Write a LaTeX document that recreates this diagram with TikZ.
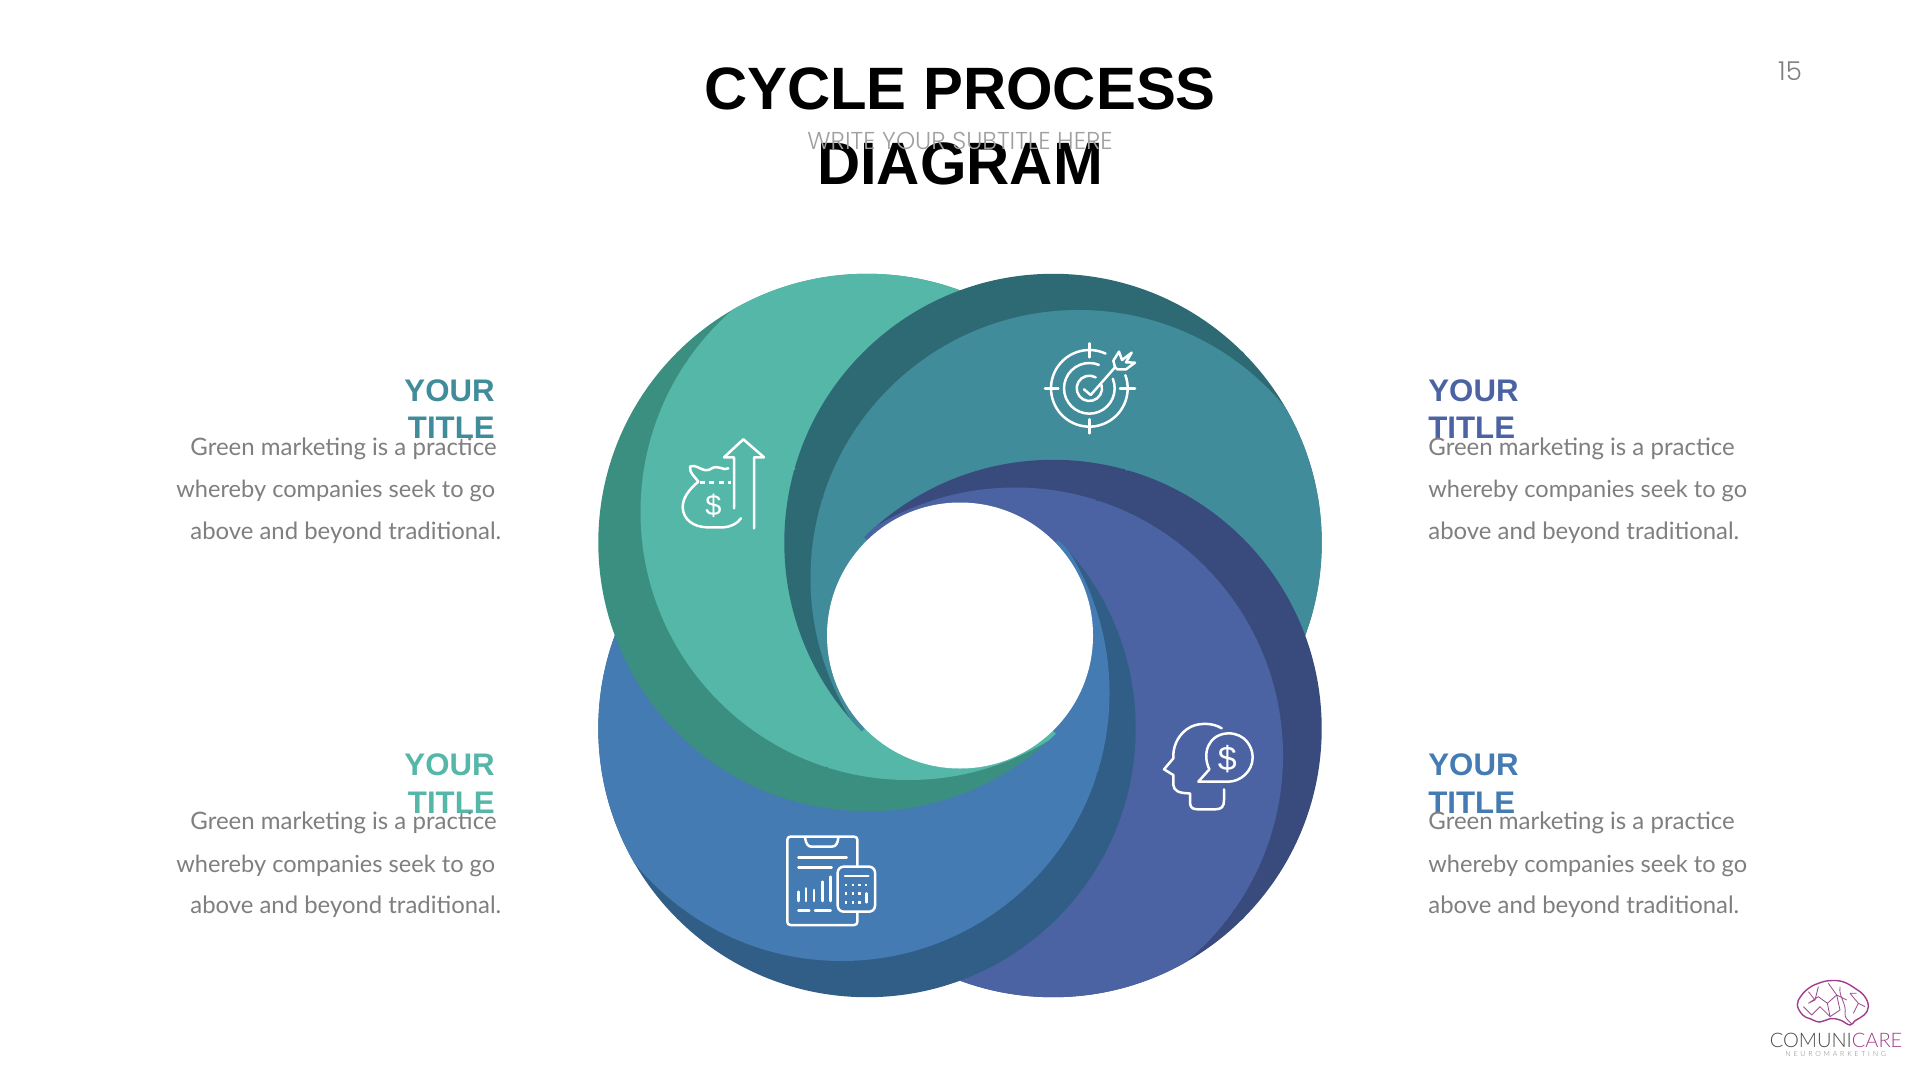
\documentclass[tikz,border=0pt]{standalone}
\usepackage{fontspec}
\setmainfont{Liberation Sans}
\newfontfamily\lato{Lato}
\newfontfamily\thinf{Poppins Light}
\newfontfamily\logof{Lato Light}
\definecolor{gL}{HTML}{55B7A8}\definecolor{gD}{HTML}{3B8F80}
\definecolor{tL}{HTML}{408C9B}\definecolor{tD}{HTML}{2E6A73}
\definecolor{iL}{HTML}{4B63A3}\definecolor{iD}{HTML}{394A7D}
\definecolor{bL}{HTML}{447BB2}\definecolor{bD}{HTML}{315E86}
\definecolor{bodyg}{HTML}{7F7F7F}\definecolor{subg}{HTML}{A0A0A0}
\definecolor{logoM}{HTML}{A23C8C}\definecolor{logoG}{HTML}{4A4A4A}
\newcommand{\OneSeg}[4]{\begin{scope}\fill[#3] #1 circle[radius=268.7];\clip #1 circle[radius=268.7];\fill[#4] #2 circle[radius=268];\end{scope}}
\newcommand{\SegG}{\OneSeg{(-93,93)}{(-51.5,123.5)}{gD}{gL}}
\newcommand{\SegT}{\OneSeg{(93,93)}{(118.5,57.5)}{tD}{tL}}
\newcommand{\SegI}{\OneSeg{(93,-93)}{(55,-120)}{iD}{iL}}
\newcommand{\SegB}{\OneSeg{(-93,-93)}{(-118.5,-57.5)}{bD}{bL}}
\newcommand{\Wedge}[3]{\clip (0,0) -- (#1:800) -- (#2:1100) -- (#3:800) -- cycle;}
% colour bands along a diagonal where two wedges meet
\newcommand{\SeamRay}[9]{\draw[seamline,#2] (#1:130) -- (#1:#3);\draw[seamline,#4] (#1:#3) -- (#1:#5);\draw[seamline,#6] (#1:#5) -- (#1:#7);\draw[seamline,#8] (#1:#7) -- (#1:#9);}
\tikzset{
 seamline/.style={line width=1.5pt,line cap=butt},
 icon/.style={draw=white,line width=1.25pt,line cap=round,line join=round},
 ttl/.style={font=\fontsize{15.6pt}{15.6pt}\selectfont\bfseries,inner sep=0pt},
 bodya/.style={font=\lato\fontsize{12pt}{12pt}\selectfont,text=bodyg,inner sep=0pt,anchor=base west},
 bodyb/.style={font=\lato\fontsize{11.8pt}{11.8pt}\selectfont,text=bodyg,inner sep=0pt,anchor=base west},
 bodyc/.style={font=\lato\fontsize{11.95pt}{11.95pt}\selectfont,text=bodyg,inner sep=0pt,anchor=base west},
 ticon/.style={text=white,inner sep=0pt}
}
\begin{document}
\begin{tikzpicture}[x=0.5pt,y=-0.5pt]
\useasboundingbox (0,0) rectangle (1920,1080);
\fill[white] (0,0) rectangle (1920,1080);
% wheel
\begin{scope}[shift={(960,635.5)},yscale=-1]
\begin{scope}\Wedge{224.9}{270}{315.1}\SegT\SegI\SegB\SegG\end{scope}
\begin{scope}\Wedge{134.9}{180}{225.1}\SegI\SegB\SegG\SegT\end{scope}
\begin{scope}\Wedge{44.9}{90}{135.1}\SegB\SegG\SegT\SegI\end{scope}
\begin{scope}\Wedge{-45.1}{0}{45.1}\SegG\SegT\SegI\SegB\end{scope}
\SeamRay{225}{gL}{186.8}{gD}{234.3}{bL}{388.95}{bD}{400.2}
\SeamRay{135}{tL}{194.2}{tD}{234.3}{gL}{386.8}{gD}{400.2}
\SeamRay{45}{iL}{191.7}{iD}{234.3}{tL}{388.95}{tD}{400.2}
\SeamRay{-45}{bL}{194.2}{bD}{234.3}{iL}{387.7}{iD}{400.2}
\fill[white] (0,0) circle[radius=133];
\end{scope}
% title
\node[font=\fontsize{29.9pt}{29.9pt}\selectfont\bfseries,anchor=base,inner sep=0pt] (title1) at (960,110) {CYCLE PROCESS};
\node[font=\fontsize{29.9pt}{29.9pt}\selectfont\bfseries,anchor=base,inner sep=0pt] (title2) at (960,185) {DIAGRAM};
\node[font=\thinf\fontsize{12.2pt}{12.2pt}\selectfont,text=subg,anchor=base,inner sep=0pt] (subt) at (960,150) {WRITE YOUR SUBTITLE HERE};
\node[font=\thinf\fontsize{13pt}{13pt}\selectfont,text=bodyg,anchor=base,inner sep=0pt] (pnum) at (1790,81) {15};
% text blocks
\node[ttl,text=tL,anchor=base east] (a1) at (495,401) {YOUR};
\node[ttl,text=tL,anchor=base east] (a2) at (495,438.5) {TITLE};
\node[bodya] (a3) at (190,455) {Green marketing is a practice};
\node[bodyb] (a4) at (176,497.5) {whereby companies seek to go};
\node[bodyc] (a5) at (190,539) {above and beyond traditional.};
\node[ttl,text=iL,anchor=base west] (b1) at (1428,401) {YOUR};
\node[ttl,text=iL,anchor=base west] (b2) at (1428,438.5) {TITLE};
\node[bodya] (b3) at (1428,455) {Green marketing is a practice};
\node[bodyb] (b4) at (1428,497.5) {whereby companies seek to go};
\node[bodyc] (b5) at (1428,539) {above and beyond traditional.};
\node[ttl,text=gL,anchor=base east] (c1) at (495,775) {YOUR};
\node[ttl,text=gL,anchor=base east] (c2) at (495,813) {TITLE};
\node[bodya] (c3) at (190,829.7) {Green marketing is a practice};
\node[bodyb] (c4) at (176,872.2) {whereby companies seek to go};
\node[bodyc] (c5) at (190,913.7) {above and beyond traditional.};
\node[ttl,text=bL,anchor=base west] (d1) at (1428,775) {YOUR};
\node[ttl,text=bL,anchor=base west] (d2) at (1428,813) {TITLE};
\node[bodya] (d3) at (1428,829.7) {Green marketing is a practice};
\node[bodyb] (d4) at (1428,872.2) {whereby companies seek to go};
\node[bodyc] (d5) at (1428,913.7) {above and beyond traditional.};
% money bag icon
\begin{scope}[shift={(660,420)},scale=1/3]
\draw[icon] (222,265) -- (222,112) -- (192,112) -- (250,58) -- (312,112) -- (282,112) -- (282,325);
\draw[icon] (205,145) .. controls (190,155) and (175,130) .. (150,148) .. controls (130,160) and (110,130) .. (90,140) .. controls (88,160) and (105,170) .. (115,185) .. controls (85,210) and (68,235) .. (68,262) .. controls (70,300) and (100,320) .. (140,322) -- (190,322) .. controls (215,320) and (232,310) .. (243,295);
\draw[icon,line cap=butt,dash pattern=on 2.5pt off 2.2pt] (120,187) -- (212,187);
\node[ticon,font=\fontsize{14.5pt}{14.5pt}\selectfont] (bagd) at (160,258) {\$};
\end{scope}
% target icon
\begin{scope}[shift={(1030,330)},scale=1/3]
\draw[icon] (178,175) ++(-20:115) arc[start angle=-20,end angle=295,radius=115];
\draw[icon] (178,175) ++(-22:76) arc[start angle=-22,end angle=292,radius=76];
\draw[icon] (178,175) ++(-15:38) arc[start angle=-15,end angle=300,radius=38];
\draw[icon] (178,40) -- (178,82) (178,268) -- (178,310) (45,175) -- (85,175) (270,175) -- (315,175);
\draw[icon] (162,178) -- (182,195) -- (255,112);
\draw[icon] (255,112) -- (250,92) -- (267,65) -- (276,90) -- (305,68) -- (288,97) -- (315,98) -- (288,118) -- (262,118) -- cycle;
\end{scope}
% head icon
\begin{scope}[shift={(1150,710)},scale=1/3]
\draw[icon] (215,55) .. controls (190,38) and (140,35) .. (110,58) .. controls (80,80) and (68,115) .. (70,145) -- (42,178) -- (70,195) -- (70,225) .. controls (72,242) and (85,250) .. (120,250) -- (120,280) .. controls (122,295) and (130,298) .. (145,298) -- (195,298) .. controls (215,298) and (222,290) .. (222,270) -- (222,238);
\draw[icon] (145,215) -- (178,178) .. controls (155,130) and (175,72) .. (235,70) .. controls (285,70) and (308,110) .. (308,142) .. controls (308,185) and (270,215) .. (235,215) -- cycle;
\node[ticon,font=\fontsize{17pt}{17pt}\selectfont] (headd) at (232,146) {\$};
\end{scope}
% clipboard icon
\begin{scope}[shift={(770,825)},scale=1/3]
\draw[icon,rounded corners=1.5pt] (262,125) -- (262,35) -- (52,35) -- (52,300) -- (262,300) -- (262,262);
\draw[icon] (105,38) .. controls (108,58) and (115,65) .. (125,65) -- (185,65) .. controls (198,65) and (203,55) .. (205,38);
\draw[icon] (85,97) -- (230,97) (85,127) -- (185,127);
\draw[icon] (85,228) -- (85,200) (108,228) -- (108,190) (132,228) -- (132,195) (157,228) -- (157,170) (182,228) -- (182,155);
\draw[icon] (85,257) -- (118,257) (135,257) -- (182,257);
\draw[icon,rounded corners=3pt] (203,125) rectangle (315,260);
\draw[icon] (225,153) -- (295,153) (290,205) -- (290,232);
\draw[icon,line cap=butt,dash pattern=on 1.2pt off 2.13pt] (225,180) -- (295,180) (225,205) -- (275,205) (225,232) -- (275,232);
\end{scope}
% logo
\begin{scope}[shift={(1740,960)},scale=1/3]
\draw[draw=logoM,line width=0.7pt,line join=round] plot[smooth cycle,tension=0.7] coordinates {(172,135) (183,108) (207,84) (235,70) (268,62) (308,65) (345,85) (373,108) (385,140) (372,165) (345,182) (330,195) (300,180) (270,176) (240,186) (210,176) (188,165)};
\draw[draw=logoM!80!gray,line width=0.4pt] (205,130) -- (235,110) -- (262,130) -- (290,105) -- (320,120) (215,165) -- (240,140) -- (270,170) (300,80) .. controls (295,110) and (320,130) .. (315,160) .. controls (312,175) and (330,185) .. (335,192) (330,100) -- (355,130) -- (340,160) (235,80) -- (225,120) (265,70) -- (290,105) (190,140) -- (215,165) (205,95) -- (225,120) -- (205,130) (262,130) -- (270,170) (290,105) -- (300,150) -- (270,170) (350,100) -- (330,100) (355,130) -- (375,140);
\node[font=\logof\fontsize{10pt}{10pt}\selectfont,anchor=base west,inner sep=0pt] (logo) at (88,262) {\textcolor{logoG}{COMUNI}\textcolor{logoM}{CARE}};
\node[font=\logof\fontsize{3.5pt}{3.5pt}\selectfont,text=gray,anchor=base west,inner sep=0pt] (logo2) at (135,290) {N\hspace{1.4pt}E\hspace{1.4pt}U\hspace{1.4pt}R\hspace{1.4pt}O\hspace{1.4pt}M\hspace{1.4pt}A\hspace{1.4pt}R\hspace{1.4pt}K\hspace{1.4pt}E\hspace{1.4pt}T\hspace{1.4pt}I\hspace{1.4pt}N\hspace{1.4pt}G};
\end{scope}
\end{tikzpicture}
\end{document}
